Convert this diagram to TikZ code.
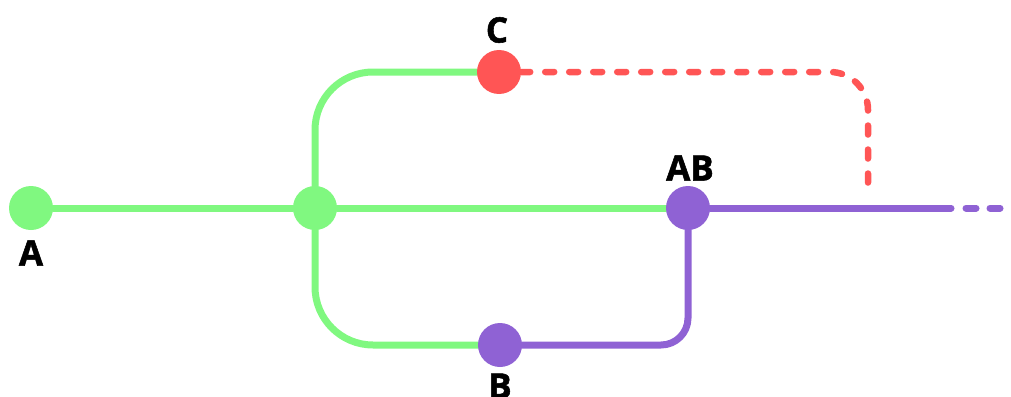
\documentclass[tikz,border=0pt]{standalone}
\usepackage{fontspec}
\setmainfont{Open Sans}
\newfontfamily\lblfont[BoldFeatures={FakeBold=1.5}]{Open Sans}
\usetikzlibrary{backgrounds}
\definecolor{gr}{RGB}{128,248,128}
\definecolor{rd}{RGB}{255,85,85}
\definecolor{pu}{RGB}{143,98,212}
\tikzset{
  dot/.style={circle, inner sep=0pt, minimum size=44pt},
  lbl/.style={font=\lblfont\fontsize{35}{35}\selectfont\bfseries, inner sep=0pt, text=black},
  wire/.style={line width=7pt, line cap=round},
  dashwire/.style={line width=6.5pt, line cap=round, dash pattern=on 9pt off 15pt},
}
\begin{document}
\begin{tikzpicture}[x=1pt, y=-1pt]
\useasboundingbox (0,0) rectangle (1011,396);
\node[dot, fill=gr] (A) at (31,208) {};
\node[dot, fill=gr] (J) at (315,208) {};
\node[dot, fill=rd] (C) at (499,72) {};
\node[dot, fill=pu] (B) at (500,345) {};
\node[dot, fill=pu] (AB) at (688,208) {};
\node[lbl] (lA) at (31,253) {A};
\node[lbl] (lC) at (497,30) {C};
\node[lbl] (lAB) at (690,168) {AB};
\node[lbl] (lB) at (500,386) {B};
\coordinate (e1) at (951,208);
\coordinate (d1) at (966,208);
\coordinate (d2) at (1000,208);
\coordinate (r1) at (868,193);
\begin{scope}[on background layer]
\draw[wire, gr] (A) -- (J);
\draw[wire, gr] (J) -- (AB);
\draw[wire, gr, rounded corners=58pt] (J.center) |- (C.center);
\draw[wire, gr, rounded corners=58pt] (J.center) |- (B.center);
\draw[wire, pu, rounded corners=27pt] (B.center) -| (AB.center);
\draw[wire, pu] (AB) -- (e1);
\draw[wire, pu, dash pattern=on 10pt off 14pt] (d1) -- (d2);
\draw[dashwire, rd, rounded corners=38pt] (C.east) -| (r1);
\end{scope}
\end{tikzpicture}
\end{document}
